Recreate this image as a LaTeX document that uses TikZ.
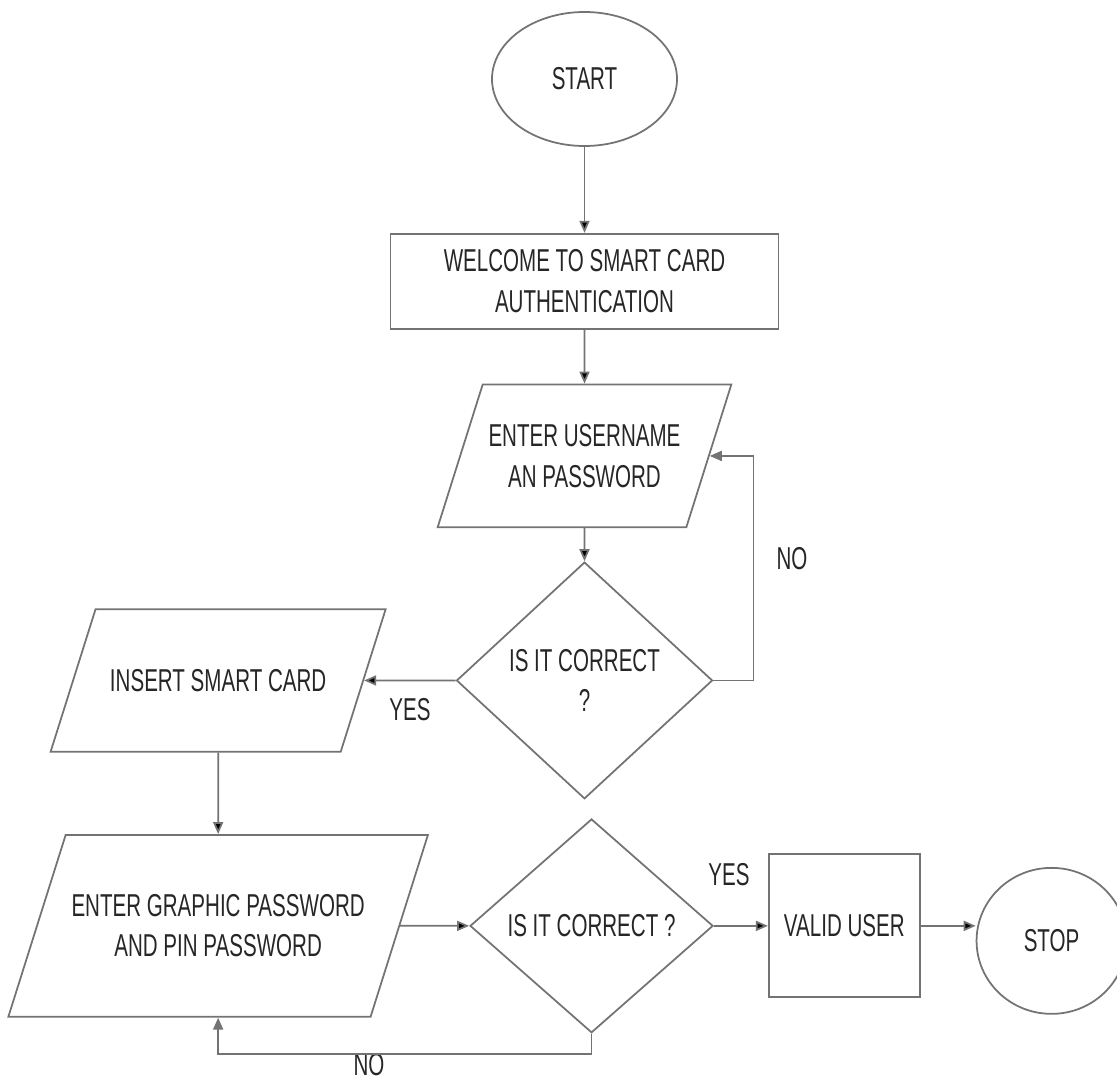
\documentclass[tikz,border=0pt]{standalone}
\usepackage{fontspec}
\setmainfont{Liberation Sans}[FakeStretch=0.65]
\usepackage{tikz}
\usetikzlibrary{positioning}
\usetikzlibrary{shapes.geometric}
\usetikzlibrary{arrows.meta}

\begin{document}
\begin{tikzpicture}[
        font=\fontsize{18}{23}\selectfont,
        >={Triangle[length=2.4mm, width=2mm]},
        block/.style={draw=black!55, line width=1pt, align=center, text=black!85},
        terminal/.style={block, ellipse},
        process/.style={block, rectangle},
        io/.style={block, trapezium, trapezium left angle=72.5, trapezium right angle=107.5, trapezium stretches body=true},
        decision/.style={block, diamond},
        lbl/.style={text=black!85},
        flow/.style={draw=black!55, line width=1pt}
    ]
        \useasboundingbox (0,0) rectangle (22.34,-21.6);

        \node[terminal, minimum width = 3.7cm, minimum height = 2.68cm] (start) at (11.69, -1.58) {START};
        \node[process, minimum width = 7.76cm, minimum height = 1.9cm] (welcome) [below = 1.72cm of start] {WELCOME TO SMART CARD\\AUTHENTICATION};
        \node[io, minimum width = 5.78cm, inner ysep = 0.8cm] (user) [below = 1.08cm of welcome] {ENTER USERNAME\\AN PASSWORD};
        \node[decision, minimum width = 5.12cm, minimum height = 4.68cm] (check1) [below = 0.66cm of user] {IS IT CORRECT\\?};
        \node[io, minimum width = 6.7cm, inner ysep = 1.2cm] (insert) [left = 1.83cm of check1] {INSERT SMART CARD};
        \node[io, minimum width = 8.36cm, inner ysep = 1.19cm] (graphic) [below = 1.63cm of insert] {ENTER GRAPHIC PASSWORD\\AND PIN PASSWORD};
        \node[decision, minimum width = 4.86cm, minimum height = 3.92cm] (check2) [right = 1.38cm of graphic] {IS IT CORRECT ?};
        \node[process, minimum width = 3.02cm, minimum height = 2.86cm] (valid) [right = 1.08cm of check2] {VALID USER};
        \node[terminal, minimum width = 3cm, minimum height = 2.92cm] (stop) [right = 1.1cm of valid, yshift = -0.3cm] {STOP};

        \node[lbl] (noA) at (15.84, -11.18) {NO};
        \node[lbl] (yesA) at (8.2, -14.2) {YES};
        \node[lbl] (yesB) at (14.58, -17.5) {YES};
        \node[lbl] (noB) at (7.38, -21.3) {NO};

        \coordinate[right = 0.8cm of check1.east] (loopA);
        \coordinate[below = 0.4cm of check2.south] (loopB);

        \draw[flow] (start) edge[->] (welcome);
        \draw[flow] (welcome) edge[->] (user);
        \draw[flow] (user) edge[->] (check1);
        \draw[flow] (check1) edge[->] (insert);
        \draw[flow] (insert) edge[->] (graphic);
        \draw[flow] (graphic) edge[->] (check2);
        \draw[flow] (check2) edge[->] (valid);
        \draw[flow] (valid.east) edge[->] (valid.east -| stop.west);
        \draw[flow, ->] (check1.east) -- (loopA) |- (user.east);
        \draw[flow, ->] (check2.south) -- (loopB) -| (graphic.south);
      \end{tikzpicture}
\end{document}
